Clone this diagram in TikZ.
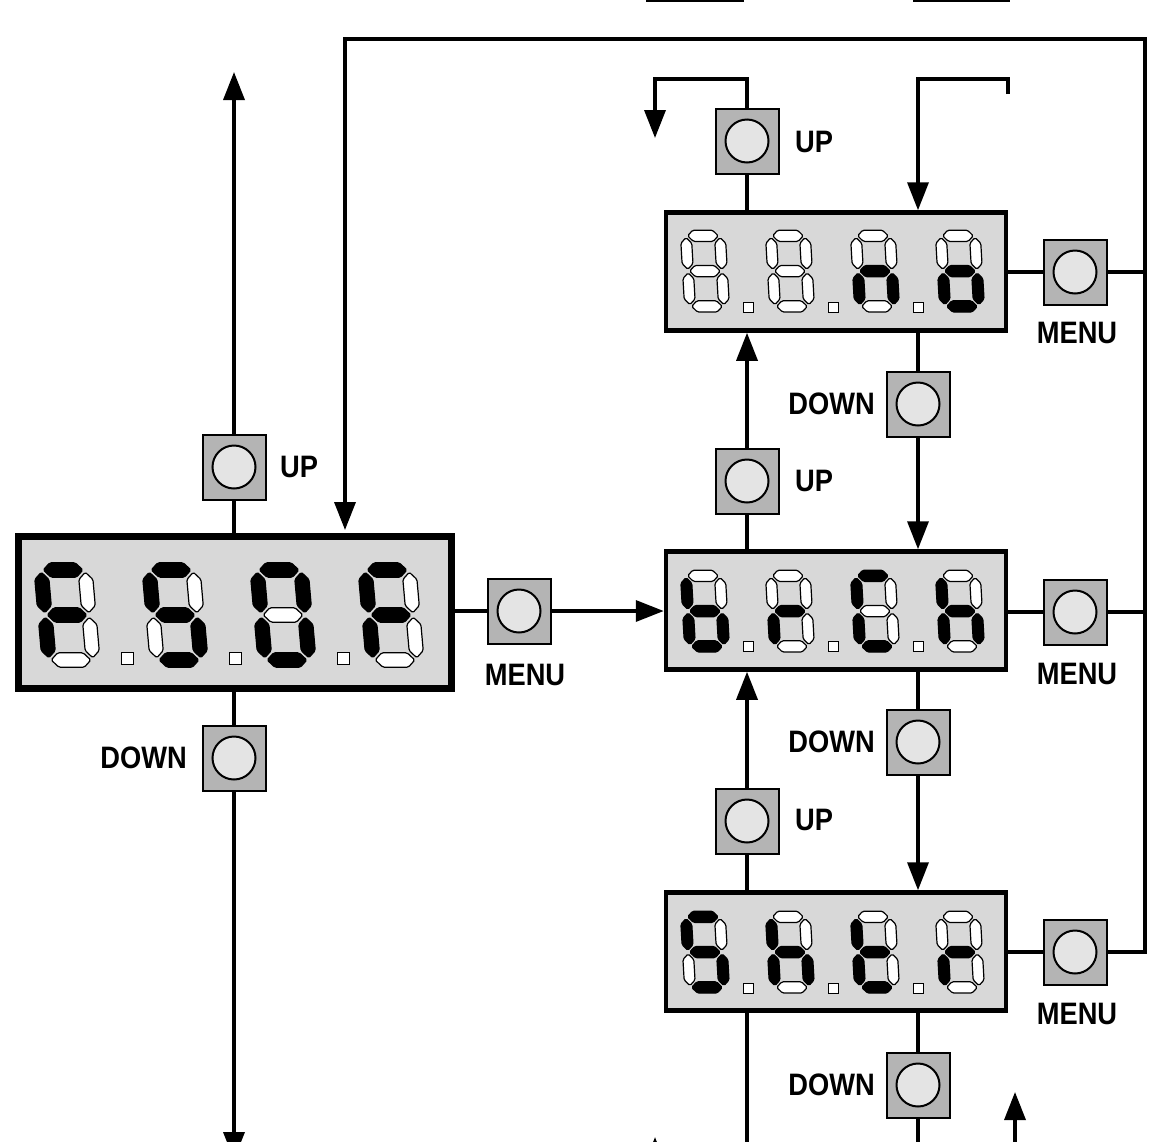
\documentclass[tikz,border=0pt]{standalone}
\usepackage{fontspec}
\newfontfamily\lbl{Liberation Sans}[FakeStretch=0.88]
\usetikzlibrary{arrows.meta,backgrounds}
\definecolor{dispgray}{HTML}{D8D8D8}
\definecolor{btngray}{HTML}{B4B4B4}
\definecolor{knobgray}{HTML}{E4E4E4}
\def\dgap{0.05}
\def\dhw{0.16}
\newcommand\hseg[2]{\path[seg#1] (\dgap,#2) -- ({\dgap+\dhw},{#2+\dhw}) -- ({1-\dgap-\dhw},{#2+\dhw}) -- ({1-\dgap},#2) -- ({1-\dgap-\dhw},{#2-\dhw}) -- ({\dgap+\dhw},{#2-\dhw}) -- cycle;}
\newcommand\vseg[3]{\path[seg#1] (#2,{#3+\dgap}) -- ({#2+\dhw},{#3+\dgap+\dhw}) -- ({#2+\dhw},{#3+1-\dgap-\dhw}) -- (#2,{#3+1-\dgap}) -- ({#2-\dhw},{#3+1-\dgap-\dhw}) -- ({#2-\dhw},{#3+\dgap+\dhw}) -- cycle;}
\newcommand\sdig[7]{\hseg{#1}{2}\vseg{#2}{1}{1}\vseg{#3}{1}{0}\hseg{#4}{0}\vseg{#5}{0}{0}\vseg{#6}{0}{1}\hseg{#7}{1}}
\newcommand\bigdig[2]{\begin{scope}[shift={(#1,660)},xscale=44,yscale=-45,xslant=0.09]#2\end{scope}}
\newcommand\smalldig[3]{\begin{scope}[shift={(#1,#2)},xscale=34,yscale=-35.3,xslant=0.06]#3\end{scope}}
\begin{document}
\begin{tikzpicture}[x=1pt,y=-1pt,
  conn/.style={line width=3.5pt},
  arr/.style={line width=3.5pt,-{Triangle[length=28pt,width=21pt]}},
  disp/.style={draw,fill=dispgray,inner sep=0pt},
  btn/.style={draw,line width=2pt,fill=btngray,inner sep=0pt,minimum width=63pt,minimum height=65pt,
    path picture={\draw[line width=2pt,fill=knobgray] (path picture bounding box.center) circle (21.5pt);}},
  lab/.style={font=\lbl\bfseries\fontsize{31}{31}\selectfont,inner sep=0pt},
  seg1/.style={fill=black,draw=black,line width=1.2pt,line join=round,rounded corners=1.5pt},
  seg0/.style={fill=white,draw=black,line width=1.2pt,line join=round,rounded corners=1.5pt},
  dpt/.style={fill=white,draw=black,line width=1pt}]
\useasboundingbox (0,0) rectangle (1151,1141);
\clip (0,0) rectangle (1151,1141);
% displays
\node[disp,line width=7pt,minimum width=433pt,minimum height=152pt] (dL) at (235,612.5) {};
\node[disp,line width=4.5pt,minimum width=340pt,minimum height=118pt] (dT) at (836,271.5) {};
\node[disp,line width=4.5pt,minimum width=340pt,minimum height=118pt] (dM) at (836,610.5) {};
\node[disp,line width=4.5pt,minimum width=340pt,minimum height=118pt] (dB) at (836,951.5) {};
% buttons
\node[btn] (bUL) at (234,467) {};
\node[btn] (bDL) at (234,758) {};
\node[btn] (bML) at (519,611) {};
\node[btn] (bTU) at (747,141) {};
\node[btn] (bTM) at (1075,272) {};
\node[btn] (bTD) at (918,404) {};
\node[btn] (bMU) at (747,481) {};
\node[btn] (bMM) at (1075,612) {};
\node[btn] (bMD) at (918,742) {};
\node[btn] (bBU) at (747,821) {};
\node[btn] (bBM) at (1075,952) {};
\node[btn] (bBD) at (918,1085) {};
% labels
\node[lab,anchor=west] (lUL) at (280,467) {UP};
\node[lab,anchor=east] (lDL) at (187,758) {DOWN};
\node[lab] (lML) at (525,675) {MENU};
\node[lab,anchor=west] (lTU) at (795,142) {UP};
\node[lab,anchor=east] (lTD) at (875,404) {DOWN};
\node[lab] (lTM) at (1077,333) {MENU};
\node[lab,anchor=west] (lMU) at (795,481) {UP};
\node[lab,anchor=east] (lMD) at (875,742) {DOWN};
\node[lab] (lMM) at (1077,674) {MENU};
\node[lab,anchor=west] (lBU) at (795,820) {UP};
\node[lab,anchor=east] (lBD) at (875,1085) {DOWN};
\node[lab] (lBM) at (1077,1014) {MENU};
% coordinates
\coordinate (tL) at (234,72);
\coordinate (bL) at (234,1160);
\coordinate (lTip) at (345,530);
\coordinate (loopTR) at (1145,39);
\coordinate (tl1) at (747,79);
\coordinate (tl2) at (655,138);
\coordinate (tr1) at (1008,94);
\coordinate (cBot) at (0,1150);
\coordinate (uR1) at (1015,1150);
\coordinate (uR2) at (1015,1092);
\coordinate (uL1) at (655,1180);
\coordinate (uL2) at (655,1137);
% digits
\bigdig{49}{\sdig1000111}
\bigdig{157}{\sdig1011011}
\bigdig{265}{\sdig1111110}
\bigdig{373}{\sdig1000111}
\foreach \cx in {127,235,343} \draw[dpt] (\cx-6,652) rectangle (\cx+6,664);
\smalldig{690}{306.4}{\sdig0000000}
\smalldig{775}{306.4}{\sdig0000000}
\smalldig{860}{306.4}{\sdig0010101}
\smalldig{945}{306.4}{\sdig0011101}
\smalldig{690}{646.4}{\sdig0011111}
\smalldig{775}{646.4}{\sdig0000101}
\smalldig{860}{646.4}{\sdig1001110}
\smalldig{945}{646.4}{\sdig0010111}
\smalldig{690}{987.4}{\sdig1011011}
\smalldig{775}{987.4}{\sdig0010111}
\smalldig{860}{987.4}{\sdig0001111}
\smalldig{945}{987.4}{\sdig0000101}
\foreach \cy in {307,646,988} \foreach \cx in {748,833,918} \draw[dpt] (\cx-5,\cy-5) rectangle (\cx+5,\cy+5);
% top edge remnants
\draw[line width=3pt] (646,0) -- (744,0);
\draw[line width=3pt] (913,0) -- (1010,0);
% connectors
\begin{pgfonlayer}{background}
\draw[arr] (dL.north -| bUL) -- (tL);
\draw[arr] (dL.south -| bDL) -- (bL);
\draw[arr] (bBM.center) -- (bBM -| loopTR) -- (loopTR) -- (loopTR -| lTip) -- (lTip);
\draw[conn] (bTM.center) -- (bTM -| loopTR);
\draw[conn] (bMM.center) -- (bMM -| loopTR);
\draw[conn] (dT.east |- bTM) -- (bTM);
\draw[conn] (dM.east |- bMM) -- (bMM);
\draw[conn] (dB.east |- bBM) -- (bBM);
\draw[conn] (dL.east |- bML) -- (bML);
\draw[arr] (bML) -- (dM.west |- bML);
\draw[arr] (dT.north -| bTU) -- (tl1) -| (tl2);
\draw[arr] (tr1) -- (tr1 |- tl1) -| (dT.north -| bTD);
\draw[arr] (dM.north -| bMU) -- (dT.south -| bMU);
\draw[arr] (dT.south -| bTD) -- (dM.north -| bTD);
\draw[arr] (dB.north -| bBU) -- (dM.south -| bBU);
\draw[arr] (dM.south -| bMD) -- (dB.north -| bMD);
\draw[conn] (dB.south -| bBU) -- (bBU |- cBot);
\draw[conn] (dB.south -| bBD) -- (bBD |- cBot);
\draw[arr] (uR1) -- (uR2);
\draw[arr] (uL1) -- (uL2);
\end{pgfonlayer}
\end{tikzpicture}
\end{document}
